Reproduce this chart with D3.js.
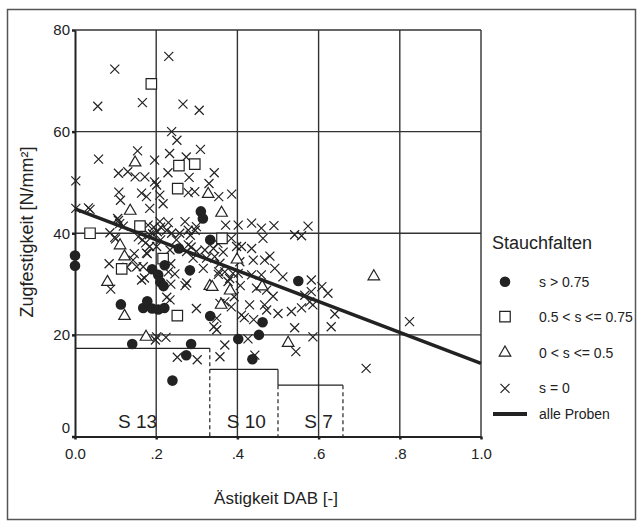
<!DOCTYPE html>
<html>
<head>
<meta charset="utf-8">
<script src="https://cdn.jsdelivr.net/npm/d3@7"></script>
<style>
  body { margin: 0; background: #fff; }
  svg text { font-family: "Liberation Sans", Arial, sans-serif; fill: #222; }
</style>
</head>
<body>
<svg id="chart" width="639" height="524"></svg>
<script>
// --- data ---
// s > 0.75 (filled circles)
const circlePts = [
  [0.0, 35.6], [0.0, 33.6], [0.113, 26.0], [0.141, 18.2], [0.168, 25.3],
  [0.178, 26.6], [0.19, 25.2], [0.205, 25.0], [0.22, 25.3], [0.24, 11.0],
  [0.274, 16.0], [0.286, 18.2], [0.19, 32.9], [0.205, 31.8], [0.21, 30.4],
  [0.218, 29.6], [0.221, 33.7], [0.256, 37.0], [0.283, 32.7], [0.31, 44.3],
  [0.315, 42.9], [0.333, 38.7], [0.333, 23.7], [0.55, 30.6], [0.462, 22.5],
  [0.453, 20.0], [0.402, 19.2], [0.437, 15.2]
];
// 0.5 < s <= 0.75 (open squares)
const squarePts = [
  [0.037, 40.0], [0.188, 69.4], [0.16, 41.4], [0.115, 33.0], [0.217, 35.0],
  [0.256, 53.3], [0.295, 53.6], [0.253, 48.8], [0.252, 23.8], [0.362, 39.0]
];
// 0 < s <= 0.5 (open triangles)
const trianglePts = [
  [0.148, 53.9], [0.136, 44.4], [0.08, 30.4], [0.111, 37.6], [0.122, 35.4],
  [0.122, 23.7], [0.175, 19.6], [0.328, 47.7], [0.361, 44.0], [0.332, 29.6],
  [0.338, 29.4], [0.399, 34.8], [0.382, 28.7], [0.36, 25.9], [0.461, 29.5],
  [0.525, 18.4], [0.736, 31.5]
];
// s = 0 (crosses)
const crossPts = [
  [0.231, 74.8], [0.098, 72.3], [0.056, 65.0], [0.166, 65.7], [0.266, 65.4],
  [0.306, 64.2], [0.238, 60.0], [0.251, 58.3], [0.309, 56.5], [0.154, 56.2],
  [0.233, 55.7], [0.058, 54.6], [0.196, 54.4], [0.274, 55.0],
  [0.002, 50.3], [0.107, 51.8], [0.13, 52.1], [0.148, 51.1], [0.172, 51.1],
  [0.196, 50.1], [0.229, 51.9], [0.281, 51.0], [0.343, 51.9],
  [0.108, 48.1], [0.112, 46.5], [0.164, 47.9], [0.176, 47.2], [0.201, 49.5],
  [0.209, 47.5], [0.217, 45.8], [0.184, 44.9], [0.279, 48.0], [0.295, 48.2],
  [0.33, 49.8], [0.354, 47.2], [0.386, 47.7],
  [0.002, 44.9], [0.037, 44.7], [0.107, 42.5], [0.119, 41.4], [0.18, 41.6],
  [0.209, 42.3], [0.23, 42.1], [0.271, 42.3], [0.299, 41.3],
  [0.086, 40.1], [0.098, 39.2], [0.166, 38.7], [0.183, 39.7], [0.203, 40.3],
  [0.226, 40.6], [0.238, 40.0], [0.258, 40.0], [0.279, 40.6],
  [0.184, 37.4], [0.201, 37.4], [0.176, 36.1], [0.234, 36.7], [0.279, 37.7],
  [0.299, 36.4], [0.084, 34.0], [0.143, 34.7], [0.152, 33.4], [0.128, 33.3],
  [0.171, 31.2], [0.168, 33.4], [0.164, 30.8], [0.146, 36.0], [0.156, 39.3],
  [0.088, 29.0], [0.201, 19.6], [0.224, 19.5], [0.252, 15.6], [0.301, 15.1],
  [0.275, 30.2], [0.234, 26.9], [0.226, 27.4], [0.299, 25.2], [0.236, 34.0],
  [0.246, 32.0], [0.236, 30.0], [0.271, 29.7], [0.23, 32.4],
  [0.25, 38.7], [0.275, 36.4], [0.291, 35.1], [0.316, 33.1], [0.324, 35.1],
  [0.32, 36.7], [0.344, 35.4], [0.354, 32.4], [0.357, 34.1], [0.369, 32.4],
  [0.377, 30.5], [0.389, 32.1], [0.406, 34.4], [0.353, 31.9], [0.381, 31.1],
  [0.402, 32.1], [0.341, 37.0], [0.352, 38.0], [0.365, 36.3],
  [0.371, 41.6], [0.402, 41.6], [0.435, 42.0], [0.459, 41.0], [0.49, 41.5],
  [0.463, 39.0], [0.541, 39.7], [0.558, 39.5], [0.574, 41.4], [0.385, 39.0],
  [0.398, 37.4], [0.41, 37.4], [0.435, 37.0], [0.439, 34.7], [0.467, 34.7],
  [0.48, 35.5], [0.492, 33.1], [0.459, 31.8], [0.435, 31.8],
  [0.512, 31.4], [0.582, 30.8], [0.608, 29.5], [0.447, 29.2], [0.472, 28.8],
  [0.488, 27.6], [0.566, 27.8], [0.578, 26.5], [0.582, 28.5], [0.623, 28.2],
  [0.407, 29.7], [0.392, 27.5],
  [0.369, 26.5], [0.385, 25.5], [0.357, 26.2], [0.41, 23.9], [0.417, 23.4],
  [0.44, 23.0], [0.43, 25.9], [0.467, 25.9], [0.472, 24.9], [0.5, 24.2],
  [0.533, 24.6], [0.558, 25.3], [0.586, 25.9], [0.64, 24.1], [0.631, 21.6],
  [0.342, 21.6], [0.349, 23.3], [0.349, 21.0], [0.541, 21.4], [0.586, 19.6],
  [0.369, 18.0], [0.357, 15.7], [0.426, 19.2], [0.443, 16.0], [0.544, 16.7],
  [0.824, 22.6], [0.717, 13.4],
  [0.033, 45.0], [0.105, 42.9], [0.11, 41.9], [0.1, 38.9], [0.174, 38.1],
  [0.178, 36.0], [0.194, 41.2], [0.211, 41.2], [0.191, 39.9], [0.211, 38.7],
  [0.284, 39.6], [0.296, 40.6], [0.286, 37.3], [0.198, 19.0]
];

// regression "alle Proben"
const trendX = [0.0, 1.0];
const trendY = [44.8, 14.4];

// grade limits (S 13 / S 10 / S 7)
const gradeNames = ["S 13", "S 10", "S 7"];
const gradeFrom  = [0.0, 0.332, 0.5];
const gradeTo    = [0.332, 0.5, 0.66];
const gradeLimit = [17.35, 13.2, 10.1];
const gradeTextX = [0.154, 0.422, 0.60];

// axes
const xTicks      = [0, 0.2, 0.4, 0.6, 0.8, 1.0];
const xTickLabels = ["0.0", ".2", ".4", ".6", ".8", "1.0"];
const yTicks      = [0, 20, 40, 60, 80];

const legendTitle  = "Stauchfalten";
const legendLabels = ["s > 0.75", "0.5 < s <= 0.75", "0 < s <= 0.5", "s = 0", "alle Proben"];

// --- layout ---
const svg = d3.select("#chart");
const ink = "#222";

const x = d3.scaleLinear().domain([0, 1]).range([75, 481]);
const y = d3.scaleLinear().domain([0, 80]).range([436.5, 30]);

// outer frame
svg.append("rect")
  .attr("x", 7.5).attr("y", 9.5)
  .attr("width", 628).attr("height", 510)
  .attr("fill", "none")
  .attr("stroke", "#555")
  .attr("stroke-width", 1.5);

// grid
const grid = svg.append("g").attr("stroke", "#333").attr("stroke-width", 1.4);
grid.selectAll("line.v")
  .data(xTicks.slice(1))
  .join("line")
  .attr("class", "v")
  .attr("x1", d => x(d)).attr("x2", d => x(d))
  .attr("y1", y(0)).attr("y2", y(80));
grid.selectAll("line.h")
  .data(yTicks.slice(1))
  .join("line")
  .attr("class", "h")
  .attr("x1", x(0)).attr("x2", x(1))
  .attr("y1", d => y(d)).attr("y2", d => y(d));

// axes
const xAxis = svg.append("g")
  .attr("transform", `translate(0,${y(0)})`)
  .call(d3.axisBottom(x).tickValues(xTicks).tickSize(3).tickSizeOuter(0)
    .tickFormat((d, i) => xTickLabels[i]));
const yAxis = svg.append("g")
  .attr("transform", `translate(${x(0)},0)`)
  .call(d3.axisLeft(y).tickValues(yTicks).tickSize(3).tickSizeOuter(0));

[xAxis, yAxis].forEach(a => {
  a.select(".domain").attr("stroke", ink).attr("stroke-width", 2);
  a.selectAll(".tick line").attr("stroke", ink).attr("stroke-width", 2.5);
  a.selectAll("text").attr("fill", ink).style("font-size", "15px")
    .style("font-family", "'Liberation Sans', Arial, sans-serif");
});
xAxis.selectAll("text").attr("y", 12);
yAxis.selectAll("text").attr("x", -5);
// the zero label sits a little above the axis in the scan
yAxis.selectAll(".tick").filter(d => d === 0).select("text").attr("y", -9);

// grade steps
const steps = svg.append("g").attr("stroke", ink).attr("stroke-width", 1.2).attr("fill", "none");
gradeNames.forEach((name, i) => {
  steps.append("line")
    .attr("x1", x(gradeFrom[i])).attr("x2", x(gradeTo[i]))
    .attr("y1", y(gradeLimit[i])).attr("y2", y(gradeLimit[i]));
  // right edge of each class: solid down to the next step, dashed below
  const next = i < gradeNames.length - 1 ? gradeLimit[i + 1] : gradeLimit[i];
  if (next < gradeLimit[i] && i > 0) {
    steps.append("line")
      .attr("x1", x(gradeTo[i])).attr("x2", x(gradeTo[i]))
      .attr("y1", y(gradeLimit[i])).attr("y2", y(next));
  }
  steps.append("line")
    .attr("x1", x(gradeTo[i])).attr("x2", x(gradeTo[i]))
    .attr("y1", y(i > 0 ? next : gradeLimit[i])).attr("y2", y(0))
    .attr("stroke-dasharray", "4,3");
  svg.append("text")
    .attr("x", x(gradeTextX[i]))
    .attr("y", y(1.7))
    .attr("text-anchor", "middle")
    .style("font-size", "19px")
    .text(name);
});

// points
const crossPath = "M-4.5,-4.5L4.5,4.5M-4.5,4.5L4.5,-4.5";
svg.append("g").selectAll("path")
  .data(crossPts)
  .join("path")
  .attr("transform", d => `translate(${x(d[0])},${y(d[1])})`)
  .attr("d", crossPath)
  .attr("stroke", ink).attr("stroke-width", 1.2).attr("fill", "none");

svg.append("g").selectAll("path")
  .data(trianglePts)
  .join("path")
  .attr("transform", d => `translate(${x(d[0])},${y(d[1])})`)
  .attr("d", d3.symbol(d3.symbolTriangle, 58))
  .attr("stroke", ink).attr("stroke-width", 1.2).attr("fill", "#fff");

svg.append("g").selectAll("path")
  .data(squarePts)
  .join("path")
  .attr("transform", d => `translate(${x(d[0])},${y(d[1])})`)
  .attr("d", d3.symbol(d3.symbolSquare, 110))
  .attr("stroke", ink).attr("stroke-width", 1.2).attr("fill", "#fff");

svg.append("g").selectAll("path")
  .data(circlePts)
  .join("path")
  .attr("transform", d => `translate(${x(d[0])},${y(d[1])})`)
  .attr("d", d3.symbol(d3.symbolCircle, 88))
  .attr("fill", ink);

// regression line
svg.append("line")
  .attr("x1", x(trendX[0])).attr("y1", y(trendY[0]))
  .attr("x2", x(trendX[1])).attr("y2", y(trendY[1]))
  .attr("stroke", ink)
  .attr("stroke-width", 3.5);

// axis titles
svg.append("text")
  .attr("x", 276).attr("y", 504)
  .attr("text-anchor", "middle")
  .style("font-size", "17px")
  .text("Ästigkeit DAB [-]");

svg.append("text")
  .attr("transform", "translate(33,232) rotate(-90)")
  .attr("text-anchor", "middle")
  .style("font-size", "18px")
  .text("Zugfestigkeit [N/mm²]");

// legend
const legend = svg.append("g").attr("transform", "translate(492,0)");
legend.append("text")
  .attr("x", 0).attr("y", 249)
  .style("font-size", "18px")
  .text(legendTitle);

const legendY = [281.7, 316.7, 352.7, 388.3, 414];
const legendSym = [
  g => g.append("path").attr("d", d3.symbol(d3.symbolCircle, 88)).attr("fill", ink),
  g => g.append("path").attr("d", d3.symbol(d3.symbolSquare, 110)).attr("fill", "#fff").attr("stroke", ink).attr("stroke-width", 1.2),
  g => g.append("path").attr("d", d3.symbol(d3.symbolTriangle, 58)).attr("fill", "#fff").attr("stroke", ink).attr("stroke-width", 1.2),
  g => g.append("path").attr("d", crossPath).attr("fill", "none").attr("stroke", ink).attr("stroke-width", 1.2),
  g => g.append("line").attr("x1", -12).attr("x2", 22).attr("stroke", ink).attr("stroke-width", 4)
];
legendLabels.forEach((label, i) => {
  const item = legend.append("g").attr("transform", `translate(13,${legendY[i]})`);
  legendSym[i](item);
  legend.append("text")
    .attr("x", 47).attr("y", legendY[i])
    .attr("dy", "0.36em")
    .style("font-size", "14px")
    .text(label);
});
</script>
</body>
</html>
